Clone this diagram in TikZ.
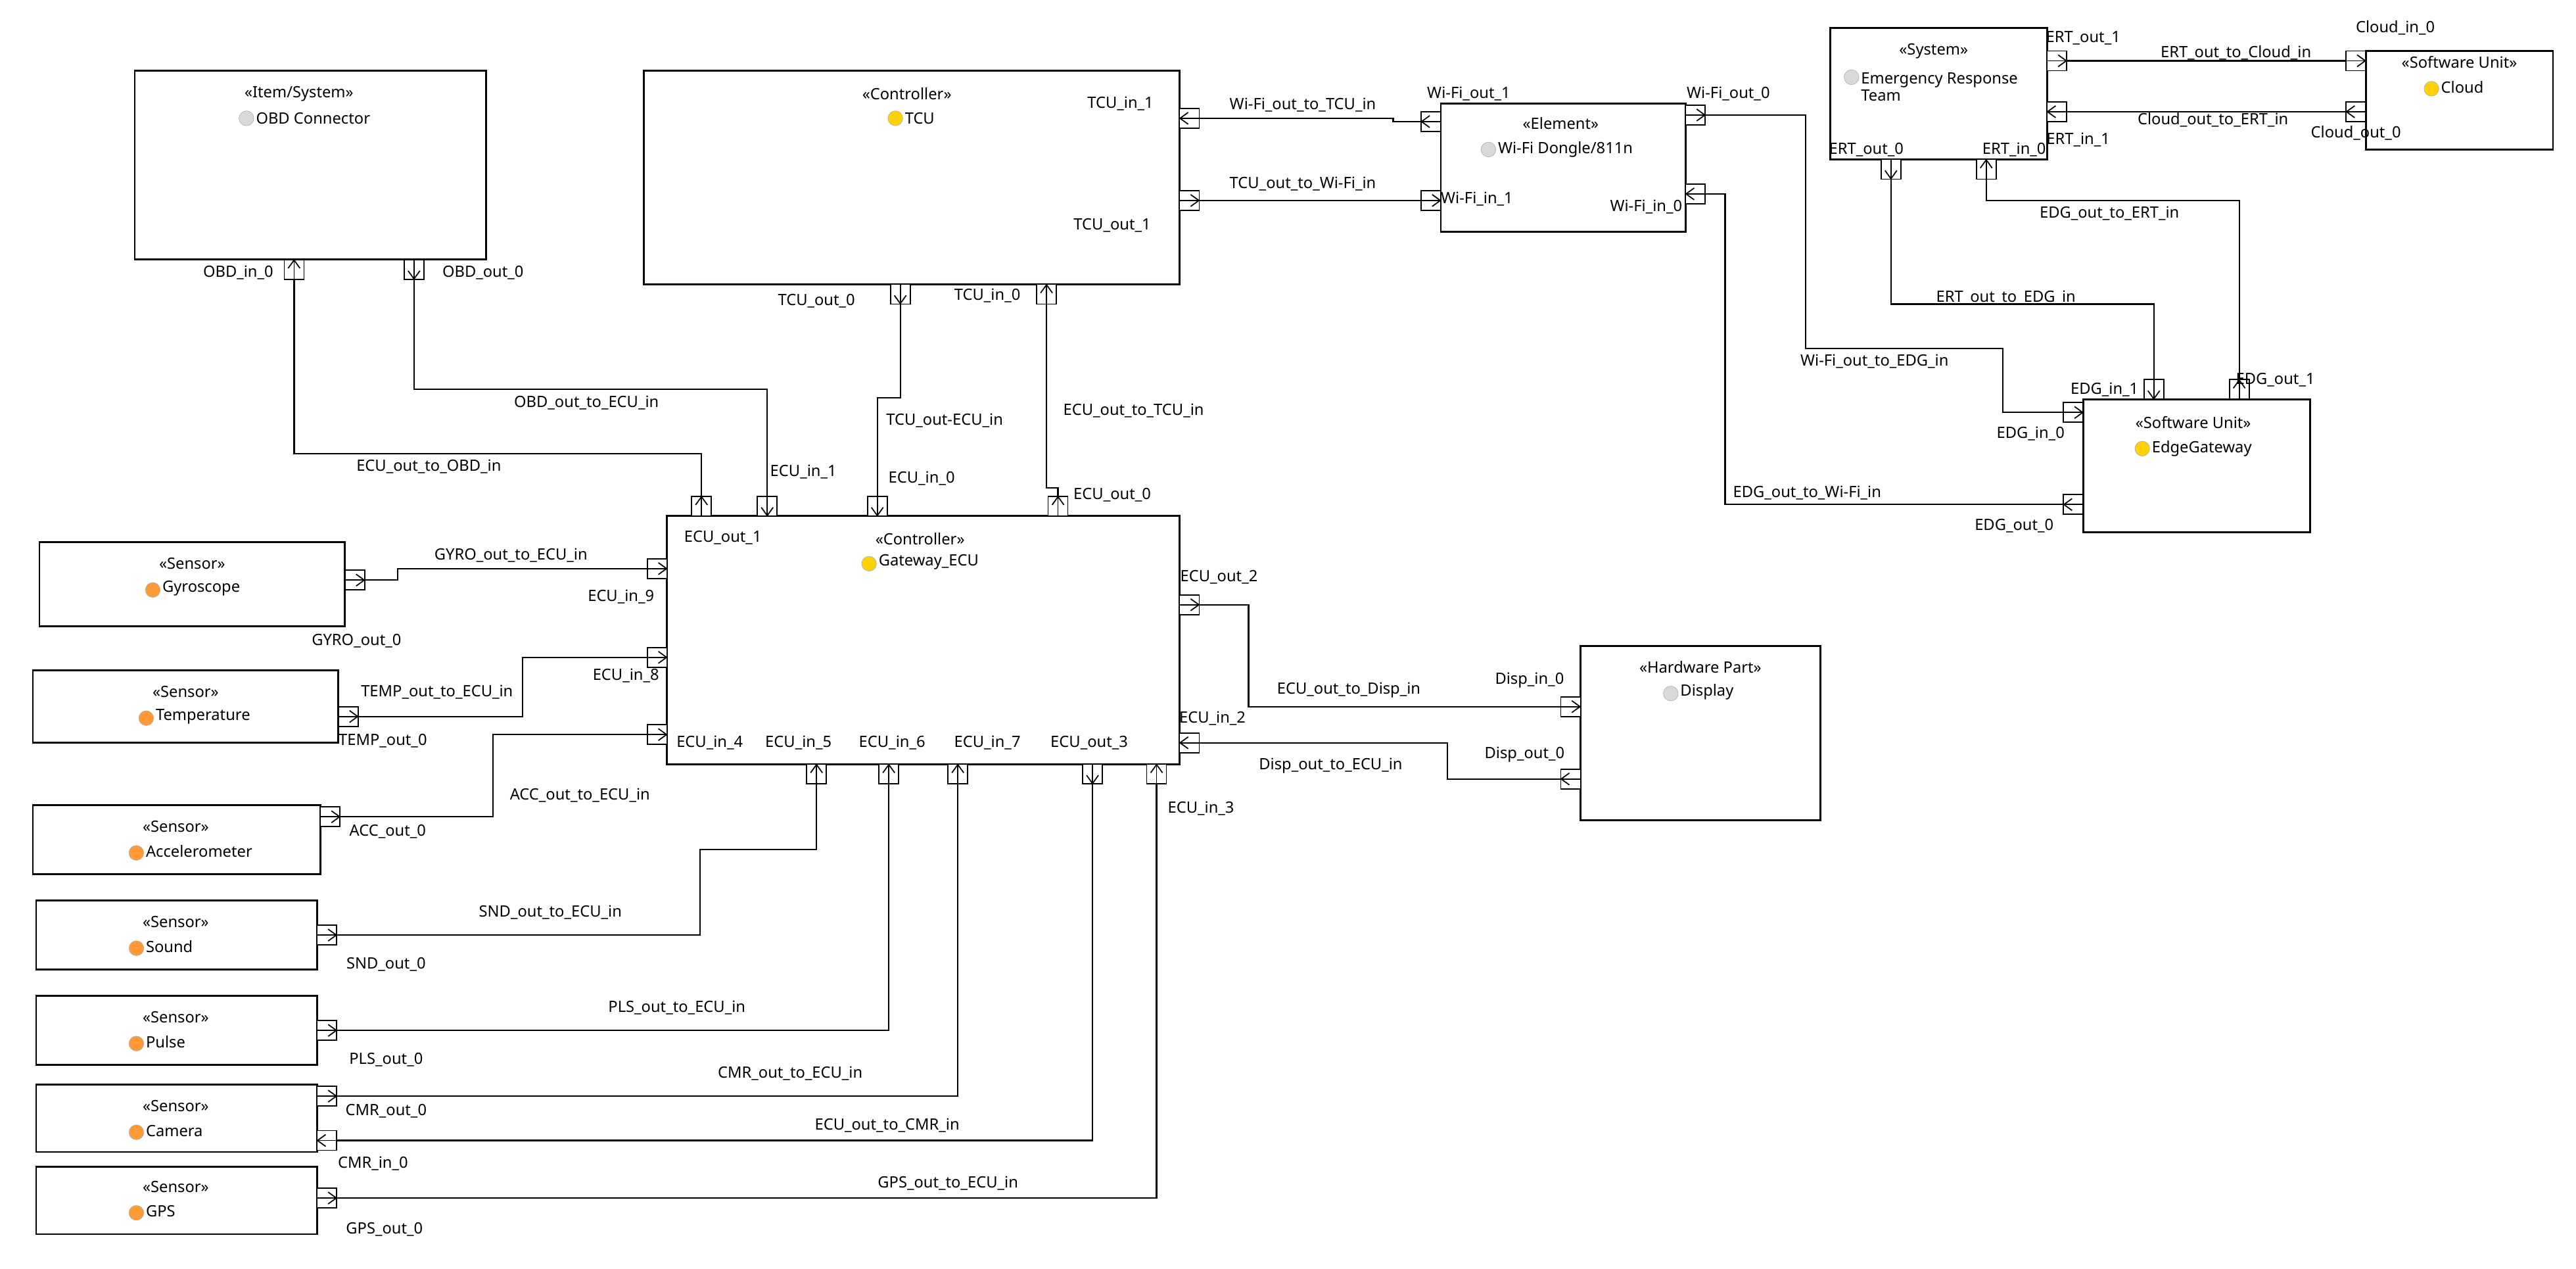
\documentclass[tikz,border=0pt]{standalone}
\usepackage{fontspec}
\setmainfont{Noto Sans}
\usetikzlibrary{arrows.meta,fit}
\tikzset{
  blk/.style={draw, line width=1.6pt, inner sep=0pt},
  port/.style={draw, fill=white, line width=1pt, minimum size=0.6cm, inner sep=0pt},
  parr/.style={line width=1pt, -{Straight Barb[length=0.25cm,width=0.36cm]}},
  wire/.style={line width=1.3pt},
  lbl/.style={font=\fontsize{13.5}{15}\selectfont, inner sep=1pt},
  icon/.style={circle, minimum size=0.45cm, inner sep=0pt, draw=gray!60, fill=#1},
}
% box from corner to corner
\newcommand\blk[5]{\coordinate (#1-a) at (#2,#3); \coordinate (#1-b) at (#4,#5);
  \node[blk, fit=(#1-a)(#1-b)] (#1) {};}
% ports: name, x, y (centre)
\newcommand\portR[3]{\node[port] (#1) at (#2,#3) {}; \draw[parr] (#1.west) -- (#1.east);}
\newcommand\portL[3]{\node[port] (#1) at (#2,#3) {}; \draw[parr] (#1.east) -- (#1.west);}
\newcommand\portU[3]{\node[port] (#1) at (#2,#3) {}; \draw[parr] (#1.south) -- (#1.north);}
\newcommand\portD[3]{\node[port] (#1) at (#2,#3) {}; \draw[parr] (#1.north) -- (#1.south);}
\begin{document}
\begin{tikzpicture}[x=0.05cm, y=-0.05cm]
\useasboundingbox (0,0) rectangle (1568,772);

% blocks
\blk{obd}{82}{43}{296}{158}
\blk{tcu}{392}{43}{718}{173}
\blk{wifi}{877}{63}{1026}{141}
\blk{ert}{1114}{17}{1246}{97}
\blk{cloud}{1440}{31}{1554}{91}
\blk{edg}{1268}{243}{1406}{324}
\blk{ecu}{406}{314}{718}{465}
\blk{disp}{962}{393}{1108}{499}
\blk{gyro}{24}{330}{210}{381}
\blk{temp}{20}{408}{206}{452}
\blk{acc}{20}{490}{195}{532}
\blk{snd}{22}{548}{193}{590}
\blk{pls}{22}{606}{193}{648}
\blk{cmr}{22}{660}{193}{701}
\blk{gps}{22}{710}{193}{751}

% block titles
\node[lbl] (obd-s) at (182,57) {«Item/System»};
\node[icon=gray!30] (obd-i) at (150,72) {}; \node[lbl, right=0pt] (obd-n) at (155,72) {OBD Connector};
\node[lbl] (tcu-s) at (552,57) {«Controller»};
\node[icon=yellow!70!orange] (tcu-i) at (545,72) {}; \node[lbl, right=0pt] (tcu-n) at (550,72) {TCU};
\node[lbl] (wifi-s) at (950,75) {«Element»};
\node[icon=gray!30] (wifi-i) at (906,91) {}; \node[lbl, right=0pt] (wifi-n) at (911,91) {Wi-Fi Dongle/811n};
\node[lbl] (ert-s) at (1177,31) {«System»};
\node[icon=gray!30] (ert-i) at (1127,47) {};
\node[lbl, right=0pt, align=left] (ert-n) at (1132,53) {Emergency Response\\Team};
\node[lbl] (cloud-s) at (1497,38) {«Software Unit»};
\node[icon=yellow!70!orange] (cloud-i) at (1480,54) {}; \node[lbl, right=0pt] (cloud-n) at (1485,53) {Cloud};
\node[lbl] (edg-s) at (1335,257) {«Software Unit»};
\node[icon=yellow!70!orange] (edg-i) at (1304,273) {}; \node[lbl, right=0pt] (edg-n) at (1309,273) {EdgeGateway};
\node[lbl] (ecu-s) at (560,328) {«Controller»};
\node[icon=yellow!70!orange] (ecu-i) at (529,343) {}; \node[lbl, right=0pt] (ecu-n) at (534,342) {Gateway\_ECU};
\node[lbl] (disp-s) at (1035,406) {«Hardware Part»};
\node[icon=gray!30] (disp-i) at (1017,422) {}; \node[lbl, right=0pt] (disp-n) at (1022,421) {Display};
\foreach \b/\n/\cx/\cy in {gyro/Gyroscope/117/343, temp/Temperature/113/421, acc/Accelerometer/107/503,
    snd/Sound/107/561, pls/Pulse/107/619, cmr/Camera/107/673, gps/GPS/107/722}{
  \node[lbl] (\b-s) at (\cx,\cy) {«Sensor»};
  \node[icon=orange!80] (\b-i) at (\cx-24,\cy+16) {};
  \node[lbl, right=0pt] (\b-n) at (\cx-19,\cy+15) {\n};
}

% ports
\portU{obdin0}{179}{164} \portD{obdout0}{252}{164}
\portL{tcuin1}{724}{72} \portR{tcuout1}{724}{122}
\portD{tcuout0}{548}{179} \portU{tcuin0}{637}{179}
\portL{wfout1}{871}{74} \portR{wfin1}{871}{122}
\portR{wfout0}{1032}{70} \portL{wfin0}{1032}{118}
\portR{ertout1}{1252}{37} \portL{ertin1}{1252}{68}
\portD{ertout0}{1151}{103} \portU{ertin0}{1209}{103}
\portR{cloudin0}{1434}{37} \portL{cloudout0}{1434}{68}
\portD{edgin1}{1311}{237} \portU{edgout1}{1363}{237}
\portR{edgin0}{1262}{251} \portL{edgout0}{1262}{307}
\portU{ecuout1}{427}{308} \portD{ecuin1}{467}{308}
\portD{ecuin0}{534}{308} \portU{ecuout0}{644}{308}
\portR{ecuin9}{400}{346} \portR{ecuin8}{400}{400} \portR{ecuin4}{400}{447}
\portR{ecuout2}{724}{368} \portL{ecuin2}{724}{452}
\portU{ecuin5}{497}{471} \portU{ecuin6}{541}{471} \portU{ecuin7}{583}{471}
\portD{ecuout3}{665}{471} \portU{ecuin3}{704}{471}
\portR{dispin0}{956}{430} \portL{dispout0}{956}{474}
\portR{gyroout0}{216}{353} \portR{tempout0}{212}{436} \portR{accout0}{201}{497}
\portR{sndout0}{199}{569} \portR{plsout0}{199}{627}
\portR{cmrout0}{199}{667} \portL{cmrin0}{199}{694} \portR{gpsout0}{199}{729}

% port labels
\foreach \t/\x/\y in {OBD\_in\_0/145/166, OBD\_out\_0/294/166, TCU\_in\_1/682/63, TCU\_out\_1/677/137,
  TCU\_out\_0/497/183, TCU\_in\_0/601/180, Wi-Fi\_out\_1/894/57, Wi-Fi\_in\_1/899/121,
  Wi-Fi\_out\_0/1052/57, Wi-Fi\_in\_0/1002/126, ERT\_out\_1/1268/23, ERT\_in\_1/1265/85,
  ERT\_out\_0/1136/91, ERT\_in\_0/1226/91, Cloud\_in\_0/1458/17, Cloud\_out\_0/1434/81,
  EDG\_in\_1/1281/237, EDG\_out\_1/1385/231, EDG\_in\_0/1236/264, EDG\_out\_0/1226/320,
  ECU\_out\_1/440/327, ECU\_in\_9/378/363, ECU\_in\_8/381/411, ECU\_in\_4/432/452,
  ECU\_in\_5/486/452, ECU\_in\_6/543/452, ECU\_in\_7/601/452, ECU\_out\_3/663/452,
  ECU\_out\_2/742/351, ECU\_in\_2/738/437, ECU\_in\_3/731/492, ECU\_in\_1/489/287,
  ECU\_in\_0/561/291, ECU\_out\_0/677/301, Disp\_in\_0/931/414, Disp\_out\_0/928/459,
  GYRO\_out\_0/217/390, TEMP\_out\_0/233/451, ACC\_out\_0/236/506, SND\_out\_0/235/587,
  PLS\_out\_0/235/645, CMR\_out\_0/235/676, CMR\_in\_0/227/708, GPS\_out\_0/234/748}
  \node[lbl] at (\x,\y) {\t};

% connectors
\draw[wire] (obdin0.south) -- (179,276) -| (ecuout1.north);
\draw[wire] (obdout0.south) -- (252,237) -| (ecuin1.north);
\draw[wire] (tcuout0.south) -- (548,242) -| (ecuin0.north);
\draw[wire] (ecuout0.north) -- (644,297) -| (tcuin0.south);
\draw[wire] (tcuout1.east) -- (765,122) |- (wfin1.west);
\draw[wire] (wfout1.west) -- (848,74) |- (tcuin1.east);
\draw[wire] (wfout0.east) -- (1099,70) |- (1219,212) |- (edgin0.west);
\draw[wire] (edgout0.west) -- (1050,307) |- (wfin0.east);
\draw[wire] (ertout0.south) |- (1311,185) -- (edgin1.north);
\draw[wire] (edgout1.north) |- (1209,122) -- (ertin0.south);
\draw[wire] (ertout1.east) -- (cloudin0.west);
\draw[wire] (cloudout0.west) -- (ertin1.east);
\draw[wire] (gyroout0.east) -- (242,353) |- (ecuin9.west);
\draw[wire] (tempout0.east) -- (318,436) |- (ecuin8.west);
\draw[wire] (accout0.east) -- (300,497) |- (ecuin4.west);
\draw[wire] (sndout0.east) -- (426,569) |- (497,517) -- (ecuin5.south);
\draw[wire] (plsout0.east) -| (ecuin6.south);
\draw[wire] (cmrout0.east) -| (ecuin7.south);
\draw[wire] (ecuout3.south) |- (cmrin0.east);
\draw[wire] (gpsout0.east) -| (ecuin3.south);
\draw[wire] (ecuout2.east) -- (760,368) |- (dispin0.west);
\draw[wire] (dispout0.west) -- (881,474) |- (ecuin2.east);

% connector labels
\foreach \t/\x/\y in {ECU\_out\_to\_OBD\_in/261/284, OBD\_out\_to\_ECU\_in/357/245,
  TCU\_out-ECU\_in/575/256, ECU\_out\_to\_TCU\_in/690/250, TCU\_out\_to\_Wi-Fi\_in/793/112,
  Wi-Fi\_out\_to\_TCU\_in/793/64, Wi-Fi\_out\_to\_EDG\_in/1141/220, EDG\_out\_to\_Wi-Fi\_in/1100/300,
  ERT\_out\_to\_EDG\_in/1221/181, EDG\_out\_to\_ERT\_in/1284/130, ERT\_out\_to\_Cloud\_in/1361/32,
  Cloud\_out\_to\_ERT\_in/1347/73, GYRO\_out\_to\_ECU\_in/311/338, TEMP\_out\_to\_ECU\_in/266/421,
  ACC\_out\_to\_ECU\_in/353/484, SND\_out\_to\_ECU\_in/335/555, PLS\_out\_to\_ECU\_in/412/613,
  CMR\_out\_to\_ECU\_in/481/653, ECU\_out\_to\_CMR\_in/540/685, GPS\_out\_to\_ECU\_in/577/720,
  ECU\_out\_to\_Disp\_in/821/420, Disp\_out\_to\_ECU\_in/810/466}
  \node[lbl] at (\x,\y) {\t};
\end{tikzpicture}
\end{document}
